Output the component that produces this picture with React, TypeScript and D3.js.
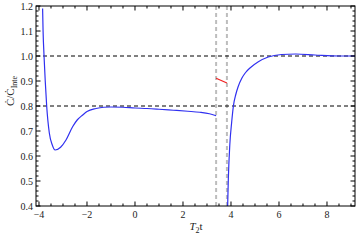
import React from "react";
import * as d3 from "d3";

// blue curve, before the gap
const leftT = [-3.85, -3.83, -3.79, -3.74, -3.68, -3.57, -3.45, -3.33, -3.1, -2.875, -2.6, -2.4, -2.18, -2.0, -1.625, -1.3, -1.0, -0.5, 0, 0.5, 1.0, 1.6, 2.2, 2.7, 3.1, 3.38];
const leftV = [1.19, 1.1, 1.0, 0.9, 0.8, 0.692, 0.645, 0.624, 0.635, 0.664, 0.717, 0.745, 0.764, 0.778, 0.79, 0.795, 0.796, 0.795, 0.792, 0.79, 0.787, 0.783, 0.779, 0.775, 0.769, 0.761];

// red segment inside the gap
const midT = [3.38, 3.83];
const midV = [0.911, 0.892];

// blue curve, after the gap
const rightT = [3.86, 3.89, 3.95, 4.03, 4.1, 4.2, 4.3, 4.45, 4.6, 4.79, 5.14, 5.55, 6.11, 6.7, 7.5, 8.5, 9.2];
const rightV = [0.4, 0.512, 0.644, 0.737, 0.8, 0.846, 0.878, 0.911, 0.933, 0.952, 0.977, 0.996, 1.006, 1.008, 1.004, 1.0, 1.0];

const gapLines = [3.38, 3.83];
const refLines = [1.0, 0.8];
const xTicks = [-4, -2, 0, 2, 4, 6, 8];
const yTicks = [0.4, 0.5, 0.6, 0.7, 0.8, 0.9, 1.0, 1.1, 1.2];

const W = 360, H = 242;
const m = { left: 36, right: 5, top: 6, bottom: 36 };

export default function App() {
  const x = d3.scaleLinear().domain([-4.125, 9.167]).range([m.left, W - m.right]);
  const y = d3.scaleLinear().domain([0.4, 1.2]).range([H - m.bottom, m.top]);

  const line = d3
    .line<[number, number]>()
    .x((d) => x(d[0]))
    .y((d) => y(d[1]))
    .curve(d3.curveMonotoneX);

  const pts = (t: number[], v: number[]) => t.map((d, i) => [d, v[i]] as [number, number]);

  const x0 = x.range()[0], x1 = x.range()[1];
  const y0 = y.range()[0], y1 = y.range()[1];

  const xMinor = d3.range(-4, 9.2, 0.5).filter((d) => !xTicks.includes(d));
  const yMinor = d3.range(0.4, 1.2001, 0.02).map((d) => +d.toFixed(2)).filter((d) => Math.abs(Math.round(d * 10) - d * 10) > 1e-6);

  const font = "Liberation Serif, Times New Roman, serif";

  return (
    <svg width={W} height={H} style={{ position: "absolute", left: 0, top: 0 }} fontFamily={font}>
      <rect x={0} y={0} width={W} height={H} fill="#fff" />
      <defs>
        <clipPath id="plot">
          <rect x={x0} y={y1} width={x1 - x0} height={y0 - y1} />
        </clipPath>
      </defs>

      <g clipPath="url(#plot)">
        {gapLines.map((t) => (
          <line key={t} x1={x(t)} x2={x(t)} y1={y1} y2={y0} stroke="#bdbdbd" strokeWidth={2} strokeDasharray="4,3" />
        ))}
        {refLines.map((v) => (
          <line key={v} x1={x0} x2={x1} y1={y(v)} y2={y(v)} stroke="#000" strokeWidth={1} strokeDasharray="4,3" />
        ))}
        <path d={line(pts(leftT, leftV)) || ""} fill="none" stroke="#3030f0" strokeWidth={1.2} />
        <path d={line(pts(midT, midV)) || ""} fill="none" stroke="#f02020" strokeWidth={1.2} />
        <path d={line(pts(rightT, rightV)) || ""} fill="none" stroke="#3030f0" strokeWidth={1.2} />
      </g>

      {/* frame */}
      <rect x={x0} y={y1} width={x1 - x0} height={y0 - y1} fill="none" stroke="#000" strokeWidth={1} />

      {/* x ticks, inward on top and bottom */}
      {xTicks.map((t) => (
        <g key={t}>
          <line x1={x(t)} x2={x(t)} y1={y0} y2={y0 - 4.5} stroke="#000" />
          <line x1={x(t)} x2={x(t)} y1={y1} y2={y1 + 4.5} stroke="#000" />
          <text x={x(t)} y={y0 + 12} textAnchor="middle" fontSize={10} fill="#222">
            {t < 0 ? `\u2212${-t}` : t}
          </text>
        </g>
      ))}
      {xMinor.map((t) => (
        <g key={t}>
          <line x1={x(t)} x2={x(t)} y1={y0} y2={y0 - 2.5} stroke="#000" />
          <line x1={x(t)} x2={x(t)} y1={y1} y2={y1 + 2.5} stroke="#000" />
        </g>
      ))}

      {/* y ticks, inward on left and right */}
      {yTicks.map((v) => (
        <g key={v}>
          <line x1={x0} x2={x0 + 4.5} y1={y(v)} y2={y(v)} stroke="#000" />
          <line x1={x1} x2={x1 - 4.5} y1={y(v)} y2={y(v)} stroke="#000" />
          <text x={x0 - 3} y={y(v) + 3.5} textAnchor="end" fontSize={10} fill="#222">
            {v.toFixed(1)}
          </text>
        </g>
      ))}
      {yMinor.map((v) => (
        <g key={v}>
          <line x1={x0} x2={x0 + 2.5} y1={y(v)} y2={y(v)} stroke="#000" />
          <line x1={x1} x2={x1 - 2.5} y1={y(v)} y2={y(v)} stroke="#000" />
        </g>
      ))}

      {/* axis labels */}
      <text x={196} y={230} textAnchor="middle" fontSize={11} fill="#222">
        <tspan fontStyle="italic">T</tspan>
        <tspan fontSize={8} dy={3}>2</tspan>
        <tspan dy={-3}>t</tspan>
      </text>
      <text transform="translate(14,91) rotate(-90)" textAnchor="middle" fontSize={11} fill="#222">
        <tspan>Ċ/Ċ</tspan>
        <tspan fontSize={8} dy={3}>Inte</tspan>
      </text>
    </svg>
  );
}
